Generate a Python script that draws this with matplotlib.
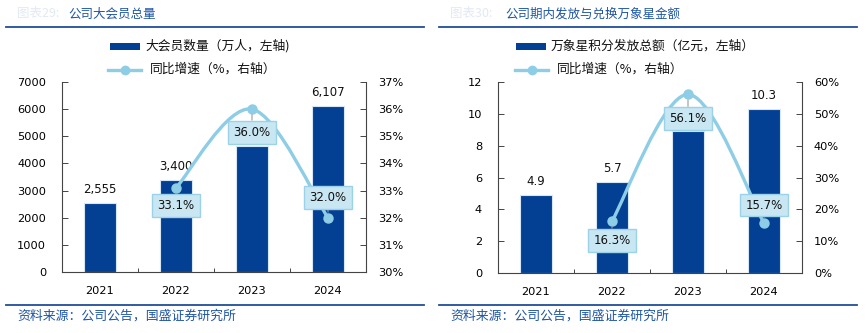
import numpy as np
import matplotlib
matplotlib.use("Agg")
import matplotlib.pyplot as plt
from matplotlib.path import Path
from matplotlib.patches import PathPatch, Rectangle
from matplotlib.lines import Line2D
from matplotlib.ticker import FuncFormatter, FixedLocator

# ---------------- data ----------------
years = ["2021", "2022", "2023", "2024"]
members = [2555, 3400, 4624, 6107]            # 大会员数量（万人）
members_growth = [np.nan, 33.1, 36.0, 32.0]   # 同比增速 %
stars = [4.9, 5.7, 8.9, 10.3]                 # 万象星积分发放总额（亿元）
stars_growth = [np.nan, 16.3, 56.1, 15.7]     # 同比增速 %

members_labels = ["2,555", "3,400", "", "6,107"]
stars_labels = ["4.9", "5.7", "", "10.3"]

W, H = 866, 333
CJK = ['Noto Sans CJK SC', 'DejaVu Sans']
BAR = '#033F93'
LINE = '#8DCDE6'
BLUE_T = '#1F56A4'
RULE = '#1F4E9A'

fig = plt.figure(figsize=(W / 100, H / 100), dpi=100)
fig.patch.set_facecolor('white')


def fx(x):
    return x / W


def fy(y):
    return 1 - y / H


def smooth_path(xs, ys):
    pts = [(x, y) for x, y in zip(xs, ys) if not np.isnan(y)]
    n = len(pts)
    P = np.array(pts, dtype=float)
    verts = [tuple(P[0])]
    codes = [Path.MOVETO]
    for i in range(n - 1):
        p0 = P[i - 1] if i > 0 else P[i]
        p1 = P[i]
        p2 = P[i + 1]
        p3 = P[i + 2] if i + 2 < n else P[i + 1]
        c1 = p1 + (p2 - p0) / 6
        c2 = p2 - (p3 - p1) / 6
        verts += [tuple(c1), tuple(c2), tuple(p2)]
        codes += [Path.CURVE4] * 3
    return Path(verts, codes)


def panel(rect, bars, blabels, growth, ylim, ystep, y2lim, y2step,
          box_offsets, legend_x, legend_texts, prefix, title, xoff):
    ax = fig.add_axes(rect)
    x = np.arange(len(years))
    ax.bar(x, bars, width=0.41, color=BAR, edgecolor='#D6E6F5', linewidth=0.8, zorder=2)
    for xi, v, lab in zip(x, bars, blabels):
        if lab:
            ax.annotate(lab, (xi, v), xytext=(0, 7), textcoords='offset pixels',
                        ha='center', va='bottom', fontsize=8.5, color='#111111', zorder=3)
    ax.set_xlim(-0.5, len(years) - 0.5)
    ax.set_ylim(*ylim)
    ax.set_yticks(np.arange(ylim[0], ylim[1] + ystep / 2, ystep))
    ax.yaxis.set_major_formatter(FuncFormatter(lambda v, p: f"{v:g}"))
    ax.xaxis.set_major_locator(FixedLocator(x))
    ax.set_xticklabels(years)
    ax.xaxis.set_minor_locator(FixedLocator(x[:-1] + 0.5))
    ax.tick_params(axis='x', which='major', length=0, pad=10, labelsize=8.2)
    ax.tick_params(axis='x', which='minor', length=3, direction='in', width=0.7, color='#444444')
    ax.tick_params(axis='y', direction='in', length=4, width=0.7, labelsize=8.2, pad=11.5, color='#444444')
    for s in ['left', 'right', 'bottom']:
        ax.spines[s].set_color('#444444')
        ax.spines[s].set_linewidth(0.8)
    ax.spines['top'].set_visible(False)
    ax.spines['right'].set_visible(False)

    ax2 = ax.twinx()
    ax2.set_ylim(*y2lim)
    ax2.set_yticks(np.arange(y2lim[0], y2lim[1] + y2step / 2, y2step))
    ax2.yaxis.set_major_formatter(FuncFormatter(lambda v, p: f"{v:.0f}%"))
    ax2.tick_params(axis='y', direction='in', length=4, width=0.7, labelsize=8.2, pad=8.5, color='#444444')
    for s in ['left', 'top', 'bottom']:
        ax2.spines[s].set_visible(False)
    ax2.spines['right'].set_color('#444444')
    ax2.spines['right'].set_linewidth(0.8)

    path = smooth_path(x, growth)
    ax2.add_patch(PathPatch(path, facecolor='none', edgecolor=LINE, lw=2.4, zorder=3,
                            capstyle='round'))
    ax2.plot(x, growth, linestyle='none', marker='o', markersize=6.5, color=LINE, zorder=4)
    for xi, g, off in zip(x, growth, box_offsets):
        if np.isnan(g):
            continue
        ax2.annotate(f"{g:.1f}%", (xi, g), xytext=(0, off), textcoords='offset pixels',
                     ha='center', va='center', fontsize=8.5, color='#111111', zorder=5,
                     bbox=dict(boxstyle='square,pad=0.42', facecolor='#C9E7F3',
                               edgecolor='#9CD2E8', linewidth=1.0),
                     arrowprops=dict(arrowstyle='-', color='#999999', lw=0.8,
                                     shrinkA=0, shrinkB=4))

    # titles and rules
    fig.text(fx(xoff + 17), fy(14), prefix, fontsize=9, color='#E3E9F2', family=CJK,
             va='center', ha='left', style='italic')
    fig.text(fx(legend_x['title']), fy(14), title, fontsize=9, color=BLUE_T, family=CJK,
             va='center', ha='left')
    fig.add_artist(Line2D([fx(xoff + 6), fx(xoff + 424)], [fy(27), fy(27)],
                          color=RULE, lw=1.3))
    fig.add_artist(Line2D([fx(xoff + 6), fx(xoff + 424)], [fy(305), fy(305)],
                          color=RULE, lw=1.3))
    fig.text(fx(xoff + 17), fy(316), "资料来源：公司公告，国盛证券研究所", fontsize=9.3,
             color=BLUE_T, family=CJK, va='center', ha='left')

    # legend
    lx = legend_x['bar']
    fig.add_artist(Rectangle((fx(lx), fy(50)), fx(30), 7 / H, facecolor=BAR,
                             edgecolor='none', transform=fig.transFigure))
    fig.text(fx(lx + 35), fy(46), legend_texts[0], fontsize=9.2, family=CJK,
             va='center', ha='left', color='#111111')
    lx2 = legend_x['line']
    fig.add_artist(Line2D([fx(lx2), fx(lx2 + 33)], [fy(69.5), fy(69.5)], color=LINE, lw=2.4))
    fig.add_artist(Line2D([fx(lx2 + 16.5)], [fy(69.5)], marker='o', markersize=6,
                          color=LINE, linestyle='none'))
    fig.text(fx(lx2 + 42), fy(69), legend_texts[1], fontsize=9.2, family=CJK,
             va='center', ha='left', color='#111111')
    return ax, ax2


panel([fx(62), fy(272), fx(304), 190 / H], members, members_labels, members_growth,
      (0, 7000), 1000, (30, 37), 1, [0, -18, -23, 20],
      {'bar': 110, 'line': 108, 'title': 68},
      ["大会员数量（万人，左轴)", "同比增速（%，右轴）"],
      "图表29:", "公司大会员总量", 0)

panel([fx(498), fy(273), fx(304), 191 / H], stars, stars_labels, stars_growth,
      (0, 12), 2, (0, 60), 10, [0, -19, -24, 18],
      {'bar': 516, 'line': 515, 'title': 505},
      ["万象星积分发放总额（亿元，左轴）", "同比增速（%，右轴）"],
      "图表30:", "公司期内发放与兑换万象星金额", 433)

fig.savefig("out.png", dpi=100, facecolor='white')
